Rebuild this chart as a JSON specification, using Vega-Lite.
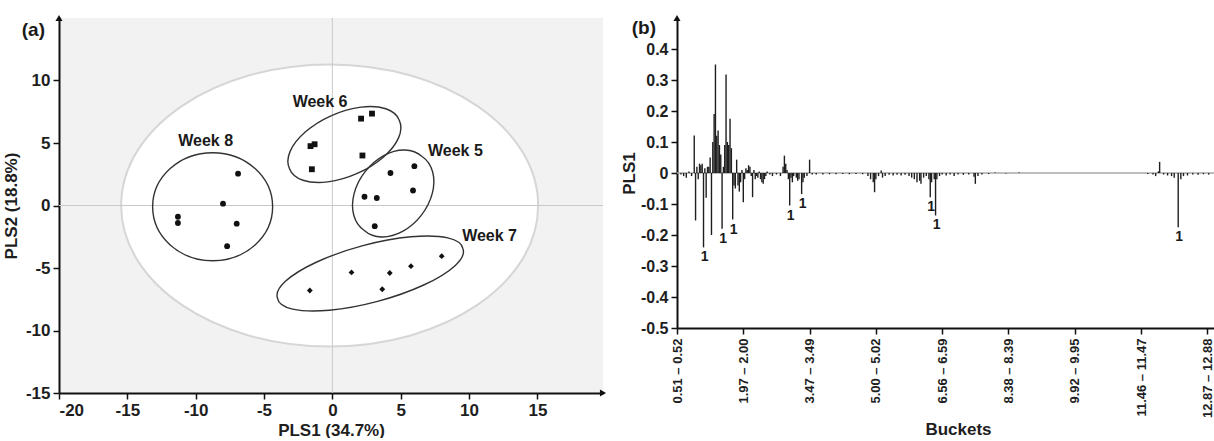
{
  "$schema": "https://vega.github.io/schema/vega-lite/v6.json",
  "padding": {"left": 2, "top": 14, "right": 0, "bottom": 0},
  "spacing": 13,
  "config": {
    "font": "Liberation Sans",
    "view": {"stroke": null},
    "axis": {
      "grid": false,
      "domainColor": "#111111",
      "domainWidth": 2,
      "tickColor": "#111111",
      "tickWidth": 1.5,
      "tickSize": 6,
      "labelFont": "Liberation Sans",
      "labelFontWeight": "bold",
      "labelFontSize": 17,
      "labelColor": "#1e1e1e",
      "labelPadding": 3,
      "labelOverlap": false,
      "titleFont": "Liberation Sans",
      "titleFontWeight": "bold",
      "titleFontSize": 17,
      "titleColor": "#1e1e1e"
    }
  },
  "datasets": {
    "scores": [
      {"week": "Week 8", "pls1": -6.9, "pls2": 2.55},
      {"week": "Week 8", "pls1": -8.0, "pls2": 0.15},
      {"week": "Week 8", "pls1": -11.3, "pls2": -0.9},
      {"week": "Week 8", "pls1": -11.3, "pls2": -1.4},
      {"week": "Week 8", "pls1": -7.0, "pls2": -1.45},
      {"week": "Week 8", "pls1": -7.7, "pls2": -3.25},
      {"week": "Week 6", "pls1": 2.1, "pls2": 6.95},
      {"week": "Week 6", "pls1": 2.9, "pls2": 7.35},
      {"week": "Week 6", "pls1": -1.6, "pls2": 4.75},
      {"week": "Week 6", "pls1": -1.3, "pls2": 4.9},
      {"week": "Week 6", "pls1": 2.2, "pls2": 4.0},
      {"week": "Week 6", "pls1": -1.5, "pls2": 2.9},
      {"week": "Week 5", "pls1": 6.0, "pls2": 3.15},
      {"week": "Week 5", "pls1": 4.25, "pls2": 2.6},
      {"week": "Week 5", "pls1": 5.9, "pls2": 1.2},
      {"week": "Week 5", "pls1": 2.35, "pls2": 0.7},
      {"week": "Week 5", "pls1": 3.25, "pls2": 0.6},
      {"week": "Week 5", "pls1": 3.1, "pls2": -1.65},
      {"week": "Week 7", "pls1": -1.65, "pls2": -6.8},
      {"week": "Week 7", "pls1": 1.4, "pls2": -5.35},
      {"week": "Week 7", "pls1": 4.2, "pls2": -5.4},
      {"week": "Week 7", "pls1": 3.65, "pls2": -6.7},
      {"week": "Week 7", "pls1": 5.75, "pls2": -4.85},
      {"week": "Week 7", "pls1": 8.0, "pls2": -4.05}
    ],
    "t2": [{"pls1": -0.2, "pls2": 0}],
    "groups": [
      {"week": "Week 8", "pls1": -8.76, "pls2": -0.1},
      {"week": "Week 6", "pls1": 0.88, "pls2": 4.88},
      {"week": "Week 5", "pls1": 4.45, "pls2": 0.96},
      {"week": "Week 7", "pls1": 2.77, "pls2": -5.44}
    ],
    "grouplabels": [
      {"week": "Week 8", "pls1": -9.27, "pls2": 5.2},
      {"week": "Week 6", "pls1": -0.9, "pls2": 8.3},
      {"week": "Week 5", "pls1": 9.0, "pls2": 4.4},
      {"week": "Week 7", "pls1": 11.5, "pls2": -2.44}
    ],
    "loadings": [
      {"bucket": 3, "pls1": -0.005},
      {"bucket": 5, "pls1": -0.01},
      {"bucket": 7, "pls1": -0.015},
      {"bucket": 9, "pls1": 0.005},
      {"bucket": 11, "pls1": -0.01},
      {"bucket": 13, "pls1": 0.121},
      {"bucket": 14, "pls1": -0.153},
      {"bucket": 15, "pls1": 0.02},
      {"bucket": 16, "pls1": -0.02},
      {"bucket": 17, "pls1": 0.03},
      {"bucket": 18, "pls1": 0.025},
      {"bucket": 19, "pls1": 0.03},
      {"bucket": 20, "pls1": -0.24, "tag": "1"},
      {"bucket": 21, "pls1": 0.015},
      {"bucket": 22, "pls1": -0.08},
      {"bucket": 23, "pls1": 0.02},
      {"bucket": 24, "pls1": 0.02},
      {"bucket": 25, "pls1": 0.05},
      {"bucket": 26, "pls1": -0.2},
      {"bucket": 27, "pls1": 0.1},
      {"bucket": 28, "pls1": 0.19},
      {"bucket": 29, "pls1": 0.35},
      {"bucket": 30, "pls1": 0.12},
      {"bucket": 31, "pls1": 0.137},
      {"bucket": 32, "pls1": 0.09},
      {"bucket": 33, "pls1": 0.06},
      {"bucket": 34, "pls1": -0.18, "tag": "1"},
      {"bucket": 35, "pls1": 0.02},
      {"bucket": 36, "pls1": 0.09},
      {"bucket": 37, "pls1": 0.318},
      {"bucket": 38, "pls1": 0.1},
      {"bucket": 39, "pls1": 0.09},
      {"bucket": 40, "pls1": 0.175},
      {"bucket": 41, "pls1": 0.08},
      {"bucket": 42, "pls1": -0.15, "tag": "1"},
      {"bucket": 43, "pls1": -0.04},
      {"bucket": 44, "pls1": -0.05},
      {"bucket": 45, "pls1": 0.043},
      {"bucket": 46, "pls1": -0.04},
      {"bucket": 47, "pls1": -0.06},
      {"bucket": 48, "pls1": -0.03},
      {"bucket": 49, "pls1": 0.01},
      {"bucket": 50, "pls1": -0.094},
      {"bucket": 51, "pls1": -0.02},
      {"bucket": 52, "pls1": 0.015},
      {"bucket": 53, "pls1": 0.01},
      {"bucket": 54, "pls1": 0.025},
      {"bucket": 55, "pls1": 0.02},
      {"bucket": 56, "pls1": -0.01},
      {"bucket": 57, "pls1": -0.078},
      {"bucket": 58, "pls1": 0.01},
      {"bucket": 59, "pls1": -0.02},
      {"bucket": 60, "pls1": -0.01},
      {"bucket": 61, "pls1": -0.015},
      {"bucket": 62, "pls1": 0.005},
      {"bucket": 63, "pls1": -0.02},
      {"bucket": 64, "pls1": -0.03},
      {"bucket": 65, "pls1": -0.035},
      {"bucket": 66, "pls1": -0.02},
      {"bucket": 67, "pls1": -0.01},
      {"bucket": 68, "pls1": 0.005},
      {"bucket": 70, "pls1": -0.005},
      {"bucket": 72, "pls1": -0.01},
      {"bucket": 75, "pls1": -0.005},
      {"bucket": 78, "pls1": -0.01},
      {"bucket": 80, "pls1": 0.02},
      {"bucket": 81, "pls1": 0.056},
      {"bucket": 82, "pls1": 0.03},
      {"bucket": 83, "pls1": 0.01},
      {"bucket": 84, "pls1": -0.02},
      {"bucket": 85, "pls1": -0.105, "tag": "1"},
      {"bucket": 86, "pls1": -0.015},
      {"bucket": 87, "pls1": -0.03},
      {"bucket": 88, "pls1": -0.01},
      {"bucket": 90, "pls1": -0.015},
      {"bucket": 91, "pls1": -0.025},
      {"bucket": 92, "pls1": -0.02},
      {"bucket": 94, "pls1": -0.068, "tag": "1"},
      {"bucket": 95, "pls1": -0.03},
      {"bucket": 96, "pls1": -0.015},
      {"bucket": 98, "pls1": -0.01},
      {"bucket": 100, "pls1": 0.043},
      {"bucket": 102, "pls1": -0.005},
      {"bucket": 105, "pls1": -0.005},
      {"bucket": 110, "pls1": -0.005},
      {"bucket": 115, "pls1": -0.004},
      {"bucket": 120, "pls1": -0.004},
      {"bucket": 125, "pls1": -0.003},
      {"bucket": 130, "pls1": -0.004},
      {"bucket": 135, "pls1": -0.003},
      {"bucket": 140, "pls1": -0.004},
      {"bucket": 144, "pls1": -0.01},
      {"bucket": 146, "pls1": -0.02},
      {"bucket": 148, "pls1": -0.03},
      {"bucket": 149, "pls1": -0.062},
      {"bucket": 150, "pls1": -0.02},
      {"bucket": 152, "pls1": -0.01},
      {"bucket": 154, "pls1": 0.008},
      {"bucket": 155, "pls1": -0.015},
      {"bucket": 157, "pls1": -0.01},
      {"bucket": 160, "pls1": -0.006},
      {"bucket": 163, "pls1": -0.008},
      {"bucket": 166, "pls1": -0.006},
      {"bucket": 169, "pls1": -0.008},
      {"bucket": 172, "pls1": -0.006},
      {"bucket": 175, "pls1": -0.01},
      {"bucket": 177, "pls1": -0.015},
      {"bucket": 179, "pls1": -0.02},
      {"bucket": 181, "pls1": -0.03},
      {"bucket": 183, "pls1": -0.025},
      {"bucket": 184, "pls1": -0.035},
      {"bucket": 186, "pls1": -0.015},
      {"bucket": 188, "pls1": -0.01},
      {"bucket": 190, "pls1": -0.02},
      {"bucket": 191, "pls1": -0.078, "tag": "1"},
      {"bucket": 192, "pls1": -0.03},
      {"bucket": 194, "pls1": -0.02},
      {"bucket": 195, "pls1": -0.137, "tag": "1"},
      {"bucket": 196, "pls1": -0.02},
      {"bucket": 198, "pls1": -0.01},
      {"bucket": 200, "pls1": -0.005},
      {"bucket": 203, "pls1": -0.008},
      {"bucket": 206, "pls1": -0.005},
      {"bucket": 209, "pls1": -0.01},
      {"bucket": 212, "pls1": -0.005},
      {"bucket": 216, "pls1": -0.006},
      {"bucket": 220, "pls1": -0.005},
      {"bucket": 224, "pls1": -0.012},
      {"bucket": 225, "pls1": -0.035},
      {"bucket": 227, "pls1": -0.01},
      {"bucket": 230, "pls1": -0.005},
      {"bucket": 235, "pls1": -0.003},
      {"bucket": 240, "pls1": 0.002},
      {"bucket": 248, "pls1": -0.002},
      {"bucket": 258, "pls1": 0.002},
      {"bucket": 355, "pls1": -0.003},
      {"bucket": 359, "pls1": -0.005},
      {"bucket": 361, "pls1": -0.01},
      {"bucket": 363, "pls1": 0.005},
      {"bucket": 364, "pls1": 0.036},
      {"bucket": 367, "pls1": -0.005},
      {"bucket": 370, "pls1": -0.008},
      {"bucket": 373, "pls1": -0.01},
      {"bucket": 375, "pls1": -0.015},
      {"bucket": 378, "pls1": -0.175, "tag": "1"},
      {"bucket": 380, "pls1": -0.02},
      {"bucket": 382, "pls1": -0.01},
      {"bucket": 385, "pls1": -0.008},
      {"bucket": 389, "pls1": -0.005},
      {"bucket": 393, "pls1": -0.006},
      {"bucket": 397, "pls1": -0.004},
      {"bucket": 401, "pls1": -0.005}
    ]
  },
  "hconcat": [
    {
      "width": 544,
      "height": 375,
      "view": {"fill": "#f2f2f2", "stroke": null},
      "resolve": {"scale": {"shape": "independent"}},
      "layer": [
        {
          "data": {"name": "t2"},
          "mark": {
            "type": "point",
            "shape": "M -208.5 0 A 208.5 141 0 1 0 208.5 0 A 208.5 141 0 1 0 -208.5 0 Z",
            "size": 4,
            "filled": true,
            "fill": "#ffffff",
            "fillOpacity": 1,
            "stroke": "#d6d6d6",
            "strokeWidth": 2,
            "opacity": 1
          },
          "encoding": {
            "x": {
              "field": "pls1", "type": "quantitative",
              "scale": {"domain": [-20, 19.8], "nice": false, "zero": false},
              "axis": {"title": "PLS1 (34.7%)", "values": [-20, -15, -10, -5, 0, 5, 10, 15], "tickCount": 12, "labelExpr": "toString(datum.value)", "titlePadding": 4}
            },
            "y": {
              "field": "pls2", "type": "quantitative",
              "scale": {"domain": [-15, 15], "nice": false, "zero": false},
              "axis": {"title": "PLS2 (18.8%)", "values": [-15, -10, -5, 0, 5, 10], "tickCount": 12, "labelExpr": "toString(datum.value)", "titlePadding": 5}
            }
          }
        },
        {
          "data": {"values": [{"ref": 0}]},
          "mark": {"type": "rule", "color": "#c9c9c9", "strokeWidth": 1},
          "encoding": {"x": {"datum": 0, "type": "quantitative"}}
        },
        {
          "data": {"values": [{"ref": 0}]},
          "mark": {"type": "rule", "color": "#c9c9c9", "strokeWidth": 1},
          "encoding": {"y": {"datum": 0, "type": "quantitative"}}
        },
        {
          "data": {"name": "groups"},
          "mark": {"type": "point", "size": 4, "filled": false, "stroke": "#333333", "strokeWidth": 1.4, "opacity": 1},
          "encoding": {
            "x": {"field": "pls1", "type": "quantitative", "scale": {"domain": [-20, 19.8], "nice": false, "zero": false}},
            "y": {"field": "pls2", "type": "quantitative", "scale": {"domain": [-15, 15], "nice": false, "zero": false}},
            "shape": {
              "field": "week", "type": "nominal", "legend": null,
              "scale": {
                "domain": ["Week 5", "Week 6", "Week 7", "Week 8"],
                "range": [
                  "M -28.9 37 A 47 34 -52 1 0 28.9 -37 A 47 34 -52 1 0 -28.9 37 Z",
                  "M -54.8 24.4 A 60 31 -24 1 0 54.8 -24.4 A 60 31 -24 1 0 -54.8 24.4 Z",
                  "M -92.7 24.8 A 96 28 -15 1 0 92.7 -24.8 A 96 28 -15 1 0 -92.7 24.8 Z",
                  "M -60 0 A 60 54 0 1 0 60 0 A 60 54 0 1 0 -60 0 Z"
                ]
              }
            }
          }
        },
        {
          "data": {"name": "scores"},
          "mark": {"type": "point", "filled": true, "color": "#111111", "size": 34, "opacity": 1},
          "encoding": {
            "x": {"field": "pls1", "type": "quantitative", "scale": {"domain": [-20, 19.8], "nice": false, "zero": false}},
            "y": {"field": "pls2", "type": "quantitative", "scale": {"domain": [-15, 15], "nice": false, "zero": false}},
            "shape": {
              "field": "week", "type": "nominal", "legend": null,
              "scale": {"domain": ["Week 5", "Week 6", "Week 7", "Week 8"], "range": ["circle", "square", "diamond", "circle"]}
            }
          }
        },
        {
          "data": {"name": "grouplabels"},
          "mark": {"type": "text", "font": "Liberation Sans", "fontWeight": "bold", "fontSize": 16, "color": "#1a1a1a"},
          "encoding": {
            "x": {"field": "pls1", "type": "quantitative", "scale": {"domain": [-20, 19.8], "nice": false, "zero": false}},
            "y": {"field": "pls2", "type": "quantitative", "scale": {"domain": [-15, 15], "nice": false, "zero": false}},
            "text": {"field": "week"}
          }
        },
        {
          "data": {"values": [{"end": "top"}]},
          "mark": {"type": "point", "shape": "triangle-up", "size": 50, "filled": true, "color": "#111111", "opacity": 1},
          "encoding": {"x": {"datum": -20, "type": "quantitative"}, "y": {"datum": 15, "type": "quantitative"}}
        },
        {
          "data": {"values": [{"end": "right"}]},
          "mark": {"type": "point", "shape": "triangle-right", "size": 50, "filled": true, "color": "#111111", "opacity": 1},
          "encoding": {"x": {"datum": 19.8, "type": "quantitative"}, "y": {"datum": -15, "type": "quantitative"}}
        },
        {
          "data": {"values": [{"panel": "(a)"}]},
          "mark": {"type": "text", "font": "Liberation Sans", "fontWeight": "bold", "fontSize": 19, "align": "right", "baseline": "top", "dx": -14, "dy": 3, "color": "#1a1a1a"},
          "encoding": {"x": {"datum": -20, "type": "quantitative"}, "y": {"datum": 15, "type": "quantitative"}, "text": {"field": "panel"}}
        }
      ]
    },
    {
      "width": 537,
      "height": 310,
      "view": {"fill": "#ffffff", "stroke": null},
      "layer": [
        {
          "data": {"values": [{"ref": 0}]},
          "mark": {"type": "rule", "color": "#a8a8a8", "strokeWidth": 1.5},
          "encoding": {"y": {"datum": 0, "type": "quantitative"}}
        },
        {
          "data": {"name": "loadings"},
          "mark": {"type": "rule", "color": "#1e1e1e", "strokeWidth": 1.4},
          "encoding": {
            "x": {
              "field": "bucket", "type": "quantitative",
              "scale": {"domain": [0, 405], "nice": false, "zero": false},
              "axis": {
                "title": "Buckets",
                "values": [0, 50, 100, 150, 200, 250, 300, 350, 400],
                "tickCount": 12,
                "labelAngle": -90,
                "labelFontSize": 13,
                "labelPadding": 4,
                "titlePadding": 4,
                "titleX": 281,
                "labelExpr": "['0.51 – 0.52', '1.97 – 2.00', '3.47 – 3.49', '5.00 – 5.02', '6.56 – 6.59', '8.38 – 8.39', '9.92 – 9.95', '11.46 – 11.47', '12.87 – 12.88'][round(datum.value / 50)]"
              }
            },
            "y": {
              "field": "pls1", "type": "quantitative",
              "scale": {"domain": [-0.5, 0.5], "nice": false, "zero": false},
              "axis": {"title": "PLS1", "values": [-0.5, -0.4, -0.3, -0.2, -0.1, 0, 0.1, 0.2, 0.3, 0.4], "tickCount": 12, "labelFontSize": 16, "labelExpr": "toString(datum.value)", "titlePadding": 2}
            },
            "y2": {"datum": 0}
          }
        },
        {
          "data": {"name": "loadings"},
          "transform": [{"filter": "datum.tag == '1'"}],
          "mark": {"type": "text", "font": "Liberation Sans", "fontWeight": "bold", "fontSize": 14, "baseline": "top", "dy": 3, "dx": 1, "color": "#1a1a1a"},
          "encoding": {
            "x": {"field": "bucket", "type": "quantitative", "scale": {"domain": [0, 405], "nice": false, "zero": false}},
            "y": {"field": "pls1", "type": "quantitative", "scale": {"domain": [-0.5, 0.5], "nice": false, "zero": false}},
            "text": {"field": "tag"}
          }
        },
        {
          "data": {"values": [{"end": "top"}]},
          "mark": {"type": "point", "shape": "triangle-up", "size": 50, "filled": true, "color": "#111111", "opacity": 1},
          "encoding": {"x": {"datum": 0, "type": "quantitative"}, "y": {"datum": 0.5, "type": "quantitative"}}
        },
        {
          "data": {"values": [{"panel": "(b)"}]},
          "mark": {"type": "text", "font": "Liberation Sans", "fontWeight": "bold", "fontSize": 19, "align": "right", "baseline": "top", "dx": -21, "dy": 1, "color": "#1a1a1a"},
          "encoding": {"x": {"datum": 0, "type": "quantitative"}, "y": {"datum": 0.5, "type": "quantitative"}, "text": {"field": "panel"}}
        }
      ]
    }
  ]
}
